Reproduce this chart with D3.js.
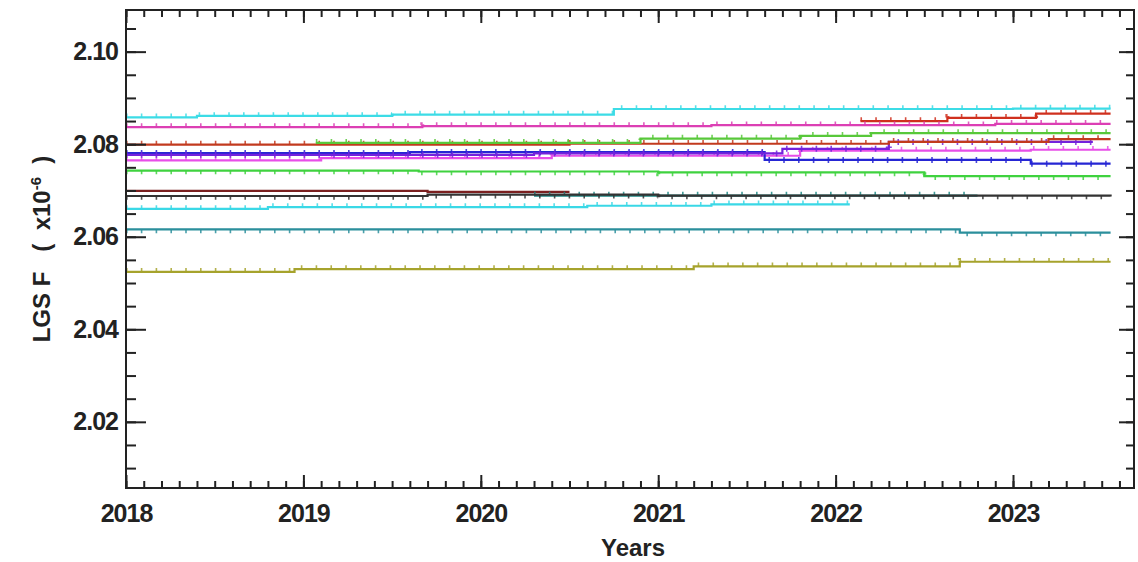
<!DOCTYPE html>
<html>
<head>
<meta charset="utf-8">
<script src="https://cdn.jsdelivr.net/npm/d3@7"></script>
<style>
  body { margin: 0; background: #fff; }
  text { font-family: "Liberation Sans", Arial, sans-serif; font-weight: bold; fill: #222; }
</style>
</head>
<body>
<svg id="chart" width="1138" height="562"></svg>
<script>
// step series: [year, value] pairs, value holds until next date, last pair = end of record
var cyanTop    = [[2018.0, 2.0858], [2018.4, 2.0861], [2019.5, 2.0864], [2020.75, 2.0876], [2023.0, 2.0877], [2023.55, 2.0877]];
var magentaTop = [[2018.0, 2.0837], [2019.67, 2.0839], [2021.3, 2.0841], [2022.9, 2.0844], [2023.55, 2.0844]];
var redRising  = [[2022.14, 2.0850], [2022.63, 2.0857], [2023.13, 2.0866], [2023.55, 2.0866]];
var brownMid   = [[2018.0, 2.0799], [2020.5, 2.0801], [2022.3, 2.0805], [2023.2, 2.0811], [2023.55, 2.0811]];
var greenUpper = [[2019.07, 2.0803], [2020.9, 2.0812], [2021.8, 2.0818], [2022.2, 2.0824], [2023.55, 2.0824]];
var blueMain   = [[2018.0, 2.0781], [2019.6, 2.0783], [2021.6, 2.0766], [2023.1, 2.0758], [2023.55, 2.0758]];
var purpleMid  = [[2018.0, 2.0777], [2020.3, 2.0780], [2021.7, 2.0790], [2022.3, 2.0805], [2023.45, 2.0805]];
var pinkMid    = [[2018.0, 2.0765], [2019.1, 2.0770], [2020.4, 2.0775], [2021.8, 2.0786], [2023.1, 2.0788], [2023.55, 2.0788]];
var greenLower = [[2018.0, 2.0743], [2019.65, 2.0741], [2021.0, 2.0739], [2022.5, 2.0731], [2023.55, 2.0731]];
var darkRed    = [[2018.0, 2.0699], [2019.7, 2.0697], [2020.5, 2.0697]];
var blackLow   = [[2018.0, 2.0688], [2019.7, 2.0691], [2021.0, 2.0689], [2023.55, 2.0687]];
var tealMid    = [[2020.3, 2.0689], [2022.8, 2.0689]];
var cyanLow    = [[2018.0, 2.0660], [2018.8, 2.0664], [2020.6, 2.0667], [2021.3, 2.0670], [2022.08, 2.0670]];
var tealLow    = [[2018.0, 2.0616], [2022.7, 2.0609], [2023.55, 2.0609]];
var oliveLow   = [[2018.0, 2.0524], [2018.95, 2.0530], [2021.2, 2.0536], [2022.7, 2.0546], [2023.55, 2.0546]];

var series = [
    {data: oliveLow,   color: "#a6a32c", mark: "up"},
    {data: tealLow,    color: "#2b8f9c", mark: "down"},
    {data: cyanLow,    color: "#3ad8e6", mark: "up"},
    {data: darkRed,    color: "#7a2020", mark: "none"},
    {data: tealMid,    color: "#1f8a86", mark: "up"},
    {data: blackLow,   color: "#333333", mark: "down"},
    {data: greenLower, color: "#3fd23f", mark: "down"},
    {data: pinkMid,    color: "#e84fe8", mark: "up"},
    {data: blueMain,   color: "#2626d4", mark: "both"},
    {data: purpleMid,  color: "#7422dc", mark: "both"},
    {data: brownMid,   color: "#c23a1e", mark: "up"},
    {data: greenUpper, color: "#58c83a", mark: "up"},
    {data: redRising,  color: "#d0301e", mark: "up"},
    {data: magentaTop, color: "#dc3fb4", mark: "up"},
    {data: cyanTop,    color: "#3cdce6", mark: "up"}
];

var xTickYears = [2018, 2019, 2020, 2021, 2022, 2023];
var yTickValues = [2.02, 2.04, 2.06, 2.08, 2.10];
var yTickLabels = ["2.02", "2.04", "2.06", "2.08", "2.10"];

(function() {
    var plotLeft = 126, plotRight = 1134, plotTop = 10, plotBottom = 488;

    var svg = d3.select("#chart");

    var x = d3.scaleLinear().domain([2018, 2023.682]).range([plotLeft, plotRight]);
    var y = d3.scaleLinear().domain([2.0057, 2.109]).range([plotBottom, plotTop]);

    svg.append("clipPath").attr("id", "plotclip")
        .append("rect")
        .attr("x", plotLeft).attr("y", plotTop)
        .attr("width", plotRight - plotLeft).attr("height", plotBottom - plotTop);

    var plot = svg.append("g").attr("clip-path", "url(#plotclip)");

    var line = d3.line()
        .x(function(d) { return x(d[0]); })
        .y(function(d) { return y(d[1]); })
        .curve(d3.curveStepAfter);

    series.forEach(function(s) {
        plot.append("path")
            .attr("d", line(s.data))
            .attr("fill", "none")
            .attr("stroke", s.color)
            .attr("stroke-width", 2.2);

        if (s.mark == "none") {
            return;
        }
        // small sample markers as a dashed overlay
        var shift = s.mark == "up" ? -1.8 : (s.mark == "down" ? 1.8 : 0);
        plot.append("path")
            .attr("d", line(s.data))
            .attr("transform", "translate(0," + shift + ")")
            .attr("fill", "none")
            .attr("stroke", s.color)
            .attr("stroke-width", s.mark == "both" ? 6 : 4)
            .attr("stroke-dasharray", "1.6,13.2")
            .attr("opacity", 0.85);
    });

    // frame
    svg.append("rect")
        .attr("x", plotLeft).attr("y", plotTop)
        .attr("width", plotRight - plotLeft).attr("height", plotBottom - plotTop)
        .attr("fill", "none")
        .attr("stroke", "#222")
        .attr("stroke-width", 2);

    // bottom / top ticks (inward), minor every 0.1 year
    var xMinor = d3.range(2018, 2023.69, 0.1);
    svg.append("g").attr("class", "ax").attr("transform", "translate(0," + plotBottom + ")")
        .call(d3.axisBottom(x).tickValues(xMinor).tickSize(-7).tickFormat(""));
    svg.append("g").attr("class", "ax").attr("transform", "translate(0," + plotTop + ")")
        .call(d3.axisTop(x).tickValues(xMinor).tickSize(-7).tickFormat(""));
    svg.append("g").attr("class", "ax").attr("transform", "translate(0," + plotBottom + ")")
        .call(d3.axisBottom(x).tickValues(xTickYears).tickSize(-13).tickPadding(16).tickFormat(d3.format("d")));
    svg.append("g").attr("class", "ax").attr("transform", "translate(0," + plotTop + ")")
        .call(d3.axisTop(x).tickValues(xTickYears).tickSize(-13).tickFormat(""));

    // left / right ticks, minor every 0.005
    var yMinor = d3.range(2.01, 2.1075, 0.005);
    svg.append("g").attr("class", "ax").attr("transform", "translate(" + plotLeft + ",0)")
        .call(d3.axisLeft(y).tickValues(yMinor).tickSize(-10).tickFormat(""));
    svg.append("g").attr("class", "ax").attr("transform", "translate(" + plotRight + ",0)")
        .call(d3.axisRight(y).tickValues(yMinor).tickSize(-8).tickFormat(""));
    svg.append("g").attr("class", "ax").attr("transform", "translate(" + plotLeft + ",0)")
        .call(d3.axisLeft(y).tickValues(yTickValues).tickSize(-20).tickPadding(8)
            .tickFormat(function(d, i) { return yTickLabels[i]; }));
    svg.append("g").attr("class", "ax").attr("transform", "translate(" + plotRight + ",0)")
        .call(d3.axisRight(y).tickValues(yTickValues).tickSize(-15).tickFormat(""));

    svg.selectAll(".ax .domain").remove();
    svg.selectAll(".ax line").attr("stroke", "#222").attr("stroke-width", 2);
    svg.selectAll(".ax text")
        .attr("font-family", "'Liberation Sans', Arial, sans-serif")
        .attr("font-weight", "bold")
        .attr("font-size", "25px")
        .attr("letter-spacing", "-1px")
        .attr("fill", "#222");

    // titles
    svg.append("text")
        .attr("x", 633).attr("y", 556)
        .attr("text-anchor", "middle")
        .attr("font-size", "24px")
        .text("Years");

    var ylab = svg.append("text")
        .attr("transform", "translate(50,249) rotate(-90)")
        .attr("text-anchor", "middle")
        .attr("font-size", "24px")
        .style("white-space", "pre");
    ylab.append("tspan").text("LGS F   (  x10");
    ylab.append("tspan").attr("dy", -9).attr("font-size", "15px").text("-6");
    ylab.append("tspan").attr("dy", 9).text("  )");
})();
</script>
</body>
</html>
